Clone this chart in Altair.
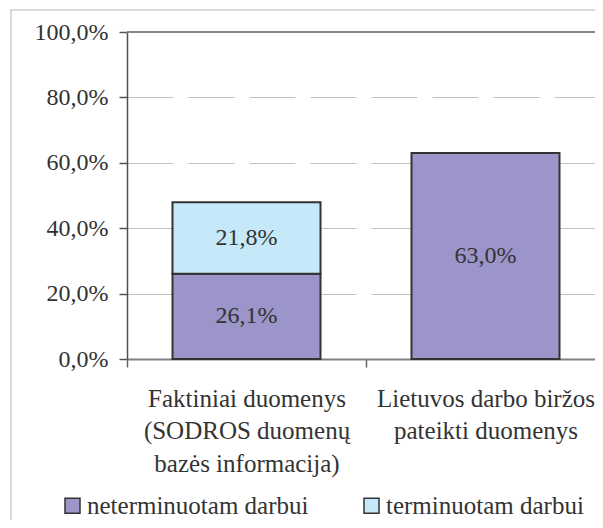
import altair as alt
import pandas as pd

NBSP = "\u00a0"

categories = [
    "Faktiniai duomenys\n(SODROS duomenų\nbazės informacija)" + NBSP * 7,
    "Lietuvos darbo biržos\npateikti duomenys",
]
series = ["neterminuotam darbui", "terminuotam darbui"]
neterminuotam = [0.261, 0.630]
terminuotam = [0.218, None]
colors = ["#9b95c9", "#c6e9f9"]
y_ticks = [0.0, 0.2, 0.4, 0.6, 0.8, 1.0]

rows = []
for i, c in enumerate(categories):
    for s, vals in zip(series, [neterminuotam, terminuotam]):
        if vals[i] is not None:
            rows.append({"category": c, "series": s, "value": vals[i], "order": series.index(s)})
df = pd.DataFrame(rows)

FONT = "Liberation Serif, Times New Roman, Times, serif"
TEXT = "#333333"
VIEW_W = 468
RANGE_W = 478
VIEW_H = 327

x_enc = alt.X(
    "category:N",
    sort=categories,
    scale=alt.Scale(range=[0, RANGE_W], paddingInner=0, paddingOuter=0),
    axis=alt.Axis(
        title=None,
        labelAngle=0,
        tickBand="extent",
        tickSize=8,
        tickColor="#666666",
        tickWidth=1.5,
        domainColor="#808080",
        domainWidth=2,
        labelFont=FONT,
        labelFontSize=25,
        labelColor=TEXT,
        labelLimit=400,
        labelOverlap=False,
        labelPadding=19,
        labelLineHeight=32.5,
        labelExpr="split(datum.label, '\\n')",
    ),
)
y_scale = alt.Scale(domain=[0, 1], nice=False, zero=True)

frame = alt.Chart(pd.DataFrame({"f": [0]})).mark_rect(
    fill="transparent", stroke="#d3cbcb", strokeWidth=1.5, clip=False
).encode(
    x=alt.value(-116), x2=alt.value(700), y=alt.value(-22), y2=alt.value(700)
)

bars = alt.Chart(df).mark_bar(width=148, stroke="#333333", strokeWidth=2).encode(
    x=x_enc,
    y=alt.Y(
        "value:Q",
        stack="zero",
        scale=y_scale,
        axis=alt.Axis(
            title=None,
            values=y_ticks,
            labelExpr="replace(format(datum.value, '.1%'), '.', ',')",
            labelFont=FONT,
            labelFontSize=24,
            labelColor=TEXT,
            labelPadding=11,
            tickSize=8,
            tickColor="#555555",
            tickWidth=1.5,
            domainColor="#505050",
            domainWidth=1.5,
            grid=True,
            gridColor="#c4c0c0",
            gridDash=[46, 15],
            gridWidth=1,
        ),
    ),
    color=alt.Color(
        "series:N",
        scale=alt.Scale(domain=series, range=colors),
        legend=alt.Legend(
            title=None,
            orient="none",
            direction="horizontal",
            legendX=-67,
            legendY=461,
            padding=0,
            symbolType="square",
            symbolSize=225,
            symbolStrokeColor="#333333",
            symbolStrokeWidth=1.5,
            symbolOpacity=1,
            labelFont=FONT,
            labelFontSize=25,
            labelColor=TEXT,
            labelLimit=400,
            labelOffset=2,
            columnPadding=50,
        ),
    ),
    order=alt.Order("order:Q"),
)

labels = alt.Chart(df).transform_stack(
    stack="value", groupby=["category"], as_=["v0", "v1"], sort=[alt.SortField("order")]
).transform_calculate(
    mid="(datum.v0 + datum.v1) / 2",
    txt="replace(format(datum.value, '.1%'), '.', ',')",
).mark_text(font=FONT, fontSize=24, color=TEXT, baseline="middle", align="center").encode(
    x=alt.X("category:N", sort=categories),
    y=alt.Y("mid:Q", scale=y_scale),
    text="txt:N",
)

top_line = alt.Chart(pd.DataFrame({"t": [0]})).mark_rule(
    stroke="#8c8484", strokeWidth=2
).encode(y=alt.datum(1.0), x=alt.value(0), x2=alt.value(RANGE_W))

chart = alt.layer(frame, bars, labels, top_line).properties(
    width=VIEW_W,
    height=VIEW_H,
    autosize=alt.AutoSizeParams(type="none"),
    padding={"left": 119, "top": 24, "right": 0, "bottom": 161},
).configure_view(stroke="transparent").configure(background="white")

chart.save("out.html", embed_options={"renderer": "svg", "actions": False})
